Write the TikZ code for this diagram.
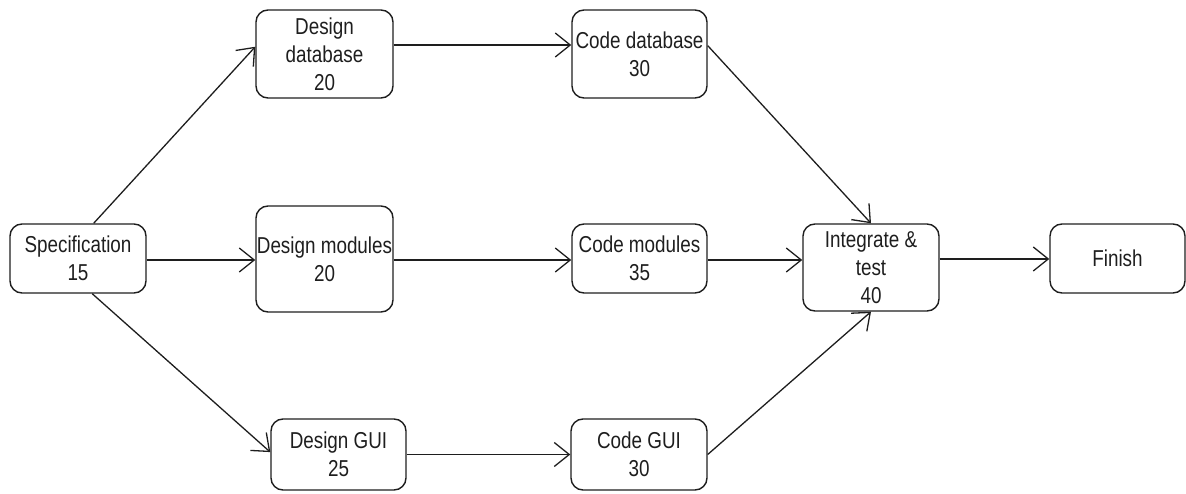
\documentclass[tikz,border=0pt]{standalone}
\usepackage{fontspec}
\setmainfont{Liberation Sans}[FakeStretch=0.82]
\usetikzlibrary{arrows.meta,calc}
\definecolor{ink}{HTML}{1E1E1E}
\begin{document}
\begin{tikzpicture}[x=1pt,y=-1pt,
  box/.style={draw=ink, line width=1.4pt, rounded corners=12pt, align=center,
    inner sep=0pt, text=ink, font=\fontsize{23}{28}\selectfont},
  conn/.style={draw=ink, line width=1.3pt, -{Straight Barb[length=15pt,width=24pt,line width=1.3pt]}}]
\useasboundingbox (0,0) rectangle (1186,494);
\node[box, minimum width=136pt, minimum height=69pt] (spec) at (78,258.5) {Specification\\15};
\node[box, minimum width=137pt, minimum height=88pt] (ddb) at (324.5,54) {Design\\database\\20};
\node[box, minimum width=137pt, minimum height=106pt] (dmod) at (324.5,259) {Design modules\\20};
\node[box, minimum width=135pt, minimum height=71pt] (dgui) at (338.5,454.5) {Design GUI\\25};
\node[box, minimum width=135pt, minimum height=88pt] (cdb) at (639.5,54) {Code database\\30};
\node[box, minimum width=135pt, minimum height=69pt] (cmod) at (639.5,258.5) {Code modules\\35};
\node[box, minimum width=136pt, minimum height=71pt] (cgui) at (639,454.5) {Code GUI\\30};
\node[box, minimum width=136pt, minimum height=87pt] (int) at (871,267.5) {Integrate \&\\test\\40};
\node[box, minimum width=135pt, minimum height=69pt] (fin) at (1117.5,258.5) {Finish};

\draw[conn] (spec.66) -- (ddb.174);
\draw[conn] ([yshift=-1.5pt]spec.east) -- ([yshift=-1.5pt]spec.east -| dmod.west);
\draw[conn] (spec.-68) -- (dgui.178);
\draw[conn] ([yshift=9pt]ddb.east) -- ([yshift=9pt]ddb.east -| cdb.west);
\draw[conn] ([yshift=-1pt]dmod.east) -- ([yshift=-1pt]dmod.east -| cmod.west);
\draw[conn] (dgui.east) -- (dgui.east -| cgui.west);
\draw[conn] (cdb.7.6) -- (int.north);
\draw[conn] ([yshift=-1.5pt]cmod.east) -- ([yshift=-1.5pt]cmod.east -| int.west);
\draw[conn] (cgui.east) -- (int.south);
\draw[conn] ([yshift=-0.5pt]fin.west -| int.east) -- ([yshift=-0.5pt]fin.west);
\end{tikzpicture}
\end{document}
